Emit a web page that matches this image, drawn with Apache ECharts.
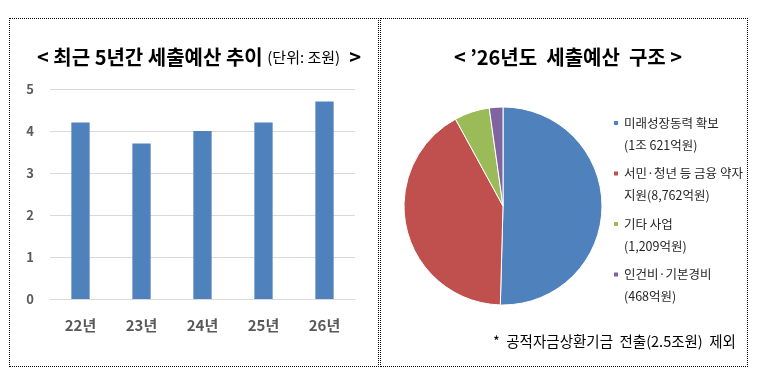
<!DOCTYPE html>
<html><head><meta charset="utf-8">
<script src="https://cdn.jsdelivr.net/npm/echarts@6/dist/echarts.min.js"></script>
<style>
html,body{margin:0;padding:0;background:#fff;}
#wrap{position:relative;width:760px;height:387px;}
.box{position:absolute;border:1px dotted #000;box-sizing:border-box;}
#chart{position:absolute;left:0;top:0;width:760px;height:387px;}
</style></head>
<body><div id="wrap">
<div class="box" style="left:9px;top:18px;width:370px;height:349px;"></div>
<div class="box" style="left:380px;top:18px;width:368px;height:349px;"></div>
<div id="chart"></div></div>
<script>
const years = ['22년','23년','24년','25년','26년'];
const budget = [4.2, 3.7, 4.0, 4.2, 4.7];
const yTicks = {min:0, max:5, interval:1};
const pieNames = ['미래성장동력 확보','서민·청년 등 금융 약자','기타 사업','인건비·기본경비'];
const pieSub = ['(1조 621억원)','지원(8,762억원)','(1,209억원)','(468억원)'];
const pieValues = [10621, 8762, 1209, 468];
const pieColors = ['#4f81bd','#c0504d','#9bbb59','#8064a2'];
const FONT = '"Noto Sans CJK KR", "Noto Sans", sans-serif';

const legendText = {fontSize:12.5, color:'#262626', lineHeight:20, fontFamily:FONT};
const chart = echarts.init(document.getElementById('chart'));
chart.setOption({
  animation:false,
  textStyle:{fontFamily:FONT},
  title:[
    {text:'{b|< 최근 5년간 세출예산 추이 }{s|(단위: 조원)}{b|  >}', left:194, top:42, textAlign:'center',
     textStyle:{rich:{b:{fontSize:20,fontWeight:'bold',color:'#000',fontFamily:FONT},s:{fontSize:15,fontWeight:'normal',color:'#000',fontFamily:FONT}}}},
    {text:'< ’26년도  세출예산  구조 >', left:563, top:42, textAlign:'center',
     textStyle:{fontSize:20,fontWeight:'bold',color:'#000',fontFamily:FONT}},
    {text:'*  공적자금상환기금  전출(2.5조원)  제외', left:488, top:329,
     textStyle:{fontSize:14.5,fontWeight:'normal',color:'#000',fontFamily:FONT}}
  ],
  grid:{left:50, right:405, top:89, bottom:88, containLabel:false},
  xAxis:{type:'category', data:years,
    axisLine:{lineStyle:{color:'#d9d9d9'}}, axisTick:{show:false},
    axisLabel:{fontSize:15, fontWeight:'bold', color:'#595959', margin:19, fontFamily:FONT}},
  yAxis:{type:'value', min:yTicks.min, max:yTicks.max, interval:yTicks.interval,
    axisLine:{show:false}, axisTick:{show:false},
    splitLine:{lineStyle:{color:'#d9d9d9'}},
    axisLabel:{fontSize:13, fontWeight:'bold', color:'#595959', margin:16, fontFamily:FONT}},
  legend:[
    {orient:'vertical', left:612, top:113, padding:0, itemWidth:6, itemHeight:6, itemGap:30.5,
     icon:'rect', data:pieNames, textStyle:legendText},
    {orient:'vertical', left:612, top:135, padding:0, itemWidth:6, itemHeight:6, itemGap:30.5,
     icon:'rect', data:pieNames, itemStyle:{opacity:0},
     formatter:function(n){return pieSub[pieNames.indexOf(n)];},
     textStyle:legendText}
  ],
  series:[
    {type:'bar', data:budget, barWidth:'30%', itemStyle:{color:'#4f81bd'}},
    {type:'pie', center:[503,206], radius:99, startAngle:90, clockwise:true,
     label:{show:false}, labelLine:{show:false},
     itemStyle:{borderColor:'#fff', borderWidth:1},
     data:pieNames.map((n,i)=>({name:n, value:pieValues[i], itemStyle:{color:pieColors[i]}}))}
  ]
});
</script></body></html>
